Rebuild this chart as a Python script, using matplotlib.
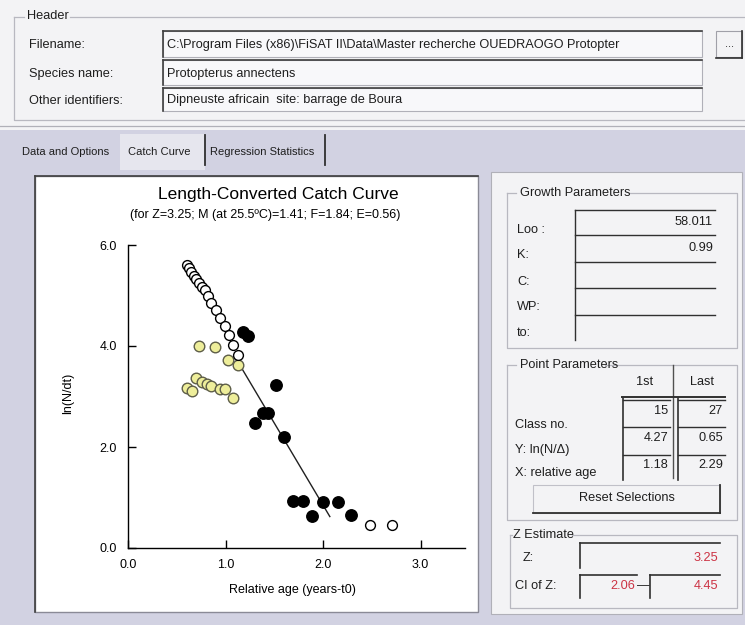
import numpy as np
import matplotlib.pyplot as plt
from matplotlib.patches import Rectangle

plt.rcParams['font.family'] = ['Liberation Sans', 'DejaVu Sans']

# catch curve points: relative age (years-t0) vs ln(N/dt)
open_age = [0.61, 0.63, 0.65, 0.68, 0.70, 0.73, 0.76, 0.79, 0.82, 0.85, 0.90,
            0.94, 0.99, 1.04, 1.08, 1.13, 2.48, 2.71]
open_ln = [5.60, 5.54, 5.47, 5.39, 5.32, 5.24, 5.17, 5.10, 4.99, 4.86, 4.71,
           4.55, 4.40, 4.22, 4.02, 3.82, 0.46, 0.46]

yellow_age = [0.60, 0.66, 0.70, 0.73, 0.76, 0.81, 0.85, 0.89, 0.94, 0.99, 1.03, 1.08, 1.13]
yellow_ln = [3.17, 3.11, 3.37, 4.00, 3.29, 3.24, 3.21, 3.99, 3.14, 3.15, 3.72, 2.98, 3.62]

sel_age = [1.18, 1.23, 1.30, 1.38, 1.44, 1.52, 1.60, 1.69, 1.79, 1.89, 2.00, 2.15, 2.29]
sel_ln = [4.27, 4.20, 2.48, 2.67, 2.67, 3.23, 2.20, 0.93, 0.93, 0.63, 0.92, 0.92, 0.65]

z_est = 3.25
z_intercept = 7.35
line_age = [1.17, 2.07]

header_labels = ['Filename:', 'Species name:', 'Other identifiers:']
header_values = [r'C:\Program Files (x86)\FiSAT II\Data\Master recherche OUEDRAOGO Protopter',
                 'Protopterus annectens',
                 'Dipneuste africain  site: barrage de Boura']
tab_names = ['Data and Options', 'Catch Curve', 'Regression Statistics']
growth_labels = ['Loo :', 'K:', 'C:', 'WP:', 'to:']
growth_values = ['58.011', '0.99', '', '', '']
point_labels = ['Class no.', 'Y: ln(N/\u0394)', 'X: relative age']
first_vals = ['15', '4.27', '1.18']
last_vals = ['27', '0.65', '2.29']
z_text = '3.25'
ci_low = '2.06'
ci_high = '4.45'

W, H = 745, 625
fig = plt.figure(figsize=(W / 100, H / 100), dpi=100)
fig.patch.set_facecolor('#f3f3f5')

bg = fig.add_axes([0, 0, 1, 1])
bg.set_xlim(0, W)
bg.set_ylim(H, 0)
bg.axis('off')

txt_col = '#1e1e1e'
lav = '#d2d2e2'
frame_col = '#b8b8c0'


def label(x, y, s, size=9.2, ha='left', color=txt_col, **kw):
    bg.text(x, y, s, fontsize=size, ha=ha, va='center', color=color, **kw)


def rect(x0, y0, x1, y1, fc, ec='none', lw=1, z=1):
    bg.add_patch(Rectangle((x0, y0), x1 - x0, y1 - y0, facecolor=fc,
                           edgecolor=ec, linewidth=lw, zorder=z))


def hline(y, x0, x1, c='#303030', lw=1.0, z=3):
    bg.plot([x0, x1], [y, y], color=c, lw=lw, zorder=z)


def vline(x, y0, y1, c='#303030', lw=1.0, z=3):
    bg.plot([x, x], [y0, y1], color=c, lw=lw, zorder=z)


def sunken(x0, y0, x1, y1, fc='#f8f8fa'):
    rect(x0, y0, x1, y1, fc, ec='#b0b0b8', lw=0.8, z=2)
    hline(y0, x0, x1, c='#404040', lw=1.2)
    vline(x0, y0, y1, c='#404040', lw=1.2)


# header group
bg.plot([14, 14, 745], [17, 120, 120], color=frame_col, lw=0.9)
hline(17, 14, 24, c=frame_col, lw=0.9)
hline(17, 70, 745, c=frame_col, lw=0.9)
label(27, 16, 'Header')
rows_y = [(31, 57), (60, 85), (88, 111)]
for (y0, y1), lab, val in zip(rows_y, header_labels, header_values):
    label(29, (y0 + y1) / 2 + 1, lab)
    sunken(163, y0, 702, y1)
    label(167, (y0 + y1) / 2 + 1, val)
# "..." button
rect(716, 31, 742, 57, '#f3f3f5', ec='#a0a0a8', lw=0.8)
vline(742, 31, 58, c='#303030', lw=1.2)
hline(58, 716, 742, c='#303030', lw=1.2)
label(729, 44, '...', size=8, ha='center')
hline(126, 0, 745, c='#b0b0b8', lw=0.9)

# tab control
rect(0, 130, W, H, lav, z=0.5)
rect(120, 134, 205, 170, '#e6e6ee', z=0.6)
label(22, 152, tab_names[0], size=8)
label(128, 152, tab_names[1], size=8)
label(210, 152, tab_names[2], size=8)
vline(205, 135, 165, lw=1.3)
vline(325, 135, 165, lw=1.3)

# plot panel
rect(35, 176, 478, 612, 'white', ec='#8a8a96', lw=1.0, z=0.8)
hline(176, 35, 478, c='#404040', lw=1.2, z=0.9)
vline(35, 176, 612, c='#404040', lw=1.2, z=0.9)

# right panel
rect(491, 172, 742, 614, '#f3f3f5', ec='#b0b0b8', lw=0.8, z=0.8)

# growth parameters
bg.plot([507, 507, 737, 737, 630], [193, 348, 348, 193, 193], color=frame_col, lw=0.9, zorder=2)
hline(193, 507, 516, c=frame_col, lw=0.9, z=2)
label(520, 193, 'Growth Parameters')
gy = [230, 255, 282, 307, 333]
for y, lab in zip(gy, growth_labels):
    label(517, y, lab)
vline(575, 210, 340, lw=1.0)
for y in [210, 235, 262, 288, 315]:
    hline(y, 575, 715, lw=1.0)
for y, v in zip([222, 248, 275, 301, 327], growth_values):
    if v:
        label(713, y, v, ha='right')

# point parameters
bg.plot([507, 507, 737, 737, 605], [365, 520, 520, 365, 365], color=frame_col, lw=0.9, zorder=2)
hline(365, 507, 516, c=frame_col, lw=0.9, z=2)
label(520, 365, 'Point Parameters')
label(645, 382, '1st', ha='center')
label(702, 382, 'Last', ha='center')
vline(673, 365, 478, c='#505050', lw=1.0)
hline(397, 622, 725, lw=1.4)
for x0, x1, vals in [(623, 670, first_vals), (678, 725, last_vals)]:
    vline(x0, 398, 480, lw=1.2)
    for y in [400, 427, 455]:
        hline(y, x0, x1, lw=1.0)
    for y, v in zip([411, 438, 465], vals):
        label(x1 - 2, y, v, ha='right')
for y, lab in zip([425, 450, 473], point_labels):
    label(515, y, lab)
# reset button
rect(533, 485, 720, 513, '#f3f3f5', ec='#c0c0c8', lw=0.8)
vline(720, 485, 513, lw=1.3)
hline(513, 533, 720, lw=1.3)
label(627, 498, 'Reset Selections', ha='center')

# z estimate
bg.plot([510, 510, 737, 737, 572], [535, 608, 608, 535, 535], color=frame_col, lw=0.9, zorder=2)
hline(535, 510, 512, c=frame_col, lw=0.9, z=2)
label(513, 535, 'Z Estimate')
label(523, 558, 'Z:')
vline(580, 543, 568, lw=1.2)
hline(543, 580, 720, lw=1.2)
label(718, 558, z_text, ha='right', color='#cc3344')
label(515, 586, 'CI of Z:')
vline(580, 575, 598, lw=1.2)
hline(575, 580, 637, lw=1.2)
label(635, 586, ci_low, ha='right', color='#cc3344')
label(643, 586, '\u2014', ha='center')
vline(650, 575, 598, lw=1.2)
hline(575, 650, 720, lw=1.2)
label(718, 586, ci_high, ha='right', color='#cc3344')

# chart titles
label(278, 195, 'Length-Converted Catch Curve', size=12.5, ha='center', color='black')
label(265, 215, '(for Z=3.25; M (at 25.5\u00baC)=1.41; F=1.84; E=0.56)', size=9,
      ha='center', color='black')
bg.text(68, 393, 'ln(N/dt)', fontsize=9, rotation=90, ha='center', va='center', color='black')
label(292, 590, 'Relative age (years-t0)', size=9, ha='center', color='black')

# catch curve axes
x0px, y0px, ux, uy = 128, 548, 97.5, 50.5
xmax, ymax = 3.46, 6.0
ax = fig.add_axes([x0px / W, (H - y0px) / H, xmax * ux / W, ymax * uy / H])
ax.set_facecolor('none')
ax.set_xlim(0, xmax)
ax.set_ylim(0, ymax)
for s in ['top', 'right']:
    ax.spines[s].set_visible(False)
for s in ['left', 'bottom']:
    ax.spines[s].set_linewidth(1.0)
ax.set_xticks([0, 1, 2, 3])
ax.set_xticklabels(['0.0', '1.0', '2.0', '3.0'])
ax.set_yticks([0, 2, 4, 6])
ax.set_yticklabels(['0.0', '2.0', '4.0', '6.0'])
ax.tick_params(direction='in', length=6, width=1, labelsize=9, pad=8)

line_age = np.array(line_age)
ax.plot(line_age, z_intercept - z_est * line_age, color='#202020', lw=1.0, zorder=2)
ax.scatter(yellow_age, yellow_ln, s=58, facecolor='#eeee9a', edgecolor='#5e5e48', linewidth=1.0, zorder=3)
ax.scatter(open_age, open_ln, s=50, facecolor='white', edgecolor='black', linewidth=1.0, zorder=3)
ax.scatter(sel_age, sel_ln, s=68, facecolor='black', edgecolor='black', zorder=4)

fig.savefig('out.png', dpi=100)
